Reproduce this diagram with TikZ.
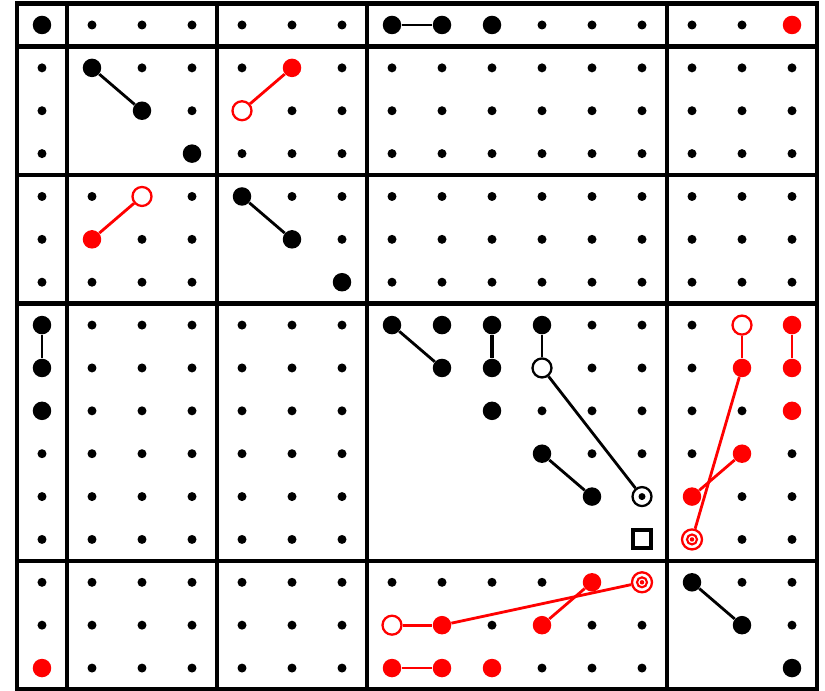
\documentclass[tikz,border=0pt]{standalone}
\usepackage{tikz}
\definecolor{markred}{rgb}{1,0,0}

\tikzset{
  smalldot/.style={circle, fill=black, inner sep=0pt, minimum size=0.18cm},
  bigdot/.style={circle, fill=#1, inner sep=0pt, minimum size=0.37cm},
  bigdot/.default=black,
  opendot/.style={circle, draw=#1, fill=white, line width=1.3pt, inner sep=0pt, minimum size=0.38cm},
  opendot/.default=black,
  ringmark/.style={circle, draw=#1, line width=1.2pt, inner sep=0pt, minimum size=0.2cm},
  link/.style={draw=#1, line width=1.6pt},
  link/.default=black,
  blockline/.style={line width=2.7pt},
  boxmark/.style={rectangle, draw=black, fill=white, line width=2.3pt, inner sep=0pt, minimum size=0.36cm}
}

\begin{document}
\begin{tikzpicture}[x=1cm, y=0.8574cm]
    \useasboundingbox (-0.84,0.583) rectangle (15.66,-15.535);

    % Grid positions, one per column and row
    \foreach \c in {0,...,15} {
        \foreach \r in {0,...,15} {
            \coordinate (pt-\c-\r) at (\c,-\r);
        }
    }

    % Small dots, left out on and below the diagonal of each diagonal block
    \foreach \c in {0,...,15} {
        \foreach \r in {0,...,15} {
            \pgfmathtruncatemacro\bc{(\c>0)+(\c>3)+(\c>6)+(\c>12)}
            \pgfmathtruncatemacro\br{(\r>0)+(\r>3)+(\r>6)+(\r>12)}
            \pgfmathtruncatemacro\hide{(\bc==\br)*(\c<\r+1)}
            \ifnum\hide=0
                \node[smalldot] (dot-\c-\r) at (pt-\c-\r) {};
            \fi
        }
    }

    % Block borders
    \draw[blockline] (-0.5,0.5) rectangle (15.5,-15.5);
    \foreach \b in {0.5, 3.5, 6.5, 12.5} {
        \draw[blockline] (\b,0.5) -- (\b,-15.5);
        \draw[blockline] (-0.5,-\b) -- (15.5,-\b);
    }

    % Black markers
    \foreach \c/\r in {0/0, 7/0, 8/0, 9/0, 1/1, 2/2, 3/3, 4/4, 5/5, 6/6,
                       0/7, 0/8, 0/9, 7/7, 8/7, 9/7, 10/7, 8/8, 9/8, 9/9,
                       10/10, 11/11, 13/13, 14/14, 15/15} {
        \node[bigdot] (mk-\c-\r) at (pt-\c-\r) {};
    }
    \node[opendot] (mk-10-8) at (pt-10-8) {};
    \node[opendot] (mk-12-11) at (pt-12-11) {};
    \node[smalldot, minimum size=0.14cm] (mk-12-11c) at (mk-12-11) {};
    \node[boxmark] (mk-12-12) at (pt-12-12) {};

    % Red markers
    \foreach \c/\r in {15/0, 5/1, 1/5, 0/15, 15/7, 14/8, 15/8, 15/9, 14/10,
                       13/11, 11/13, 8/14, 10/14, 7/15, 8/15, 9/15} {
        \node[bigdot=markred] (mk-\c-\r) at (pt-\c-\r) {};
    }
    \foreach \c/\r in {4/2, 2/4, 14/7, 7/14} {
        \node[opendot=markred] (mk-\c-\r) at (pt-\c-\r) {};
    }
    \foreach \c/\r in {13/12, 12/13} {
        \node[opendot=markred, minimum size=0.4cm] (mk-\c-\r) at (pt-\c-\r) {};
        \node[ringmark=markred] (mk-\c-\r r) at (mk-\c-\r) {};
        \node[bigdot=markred, minimum size=0.09cm] (mk-\c-\r c) at (mk-\c-\r) {};
    }

    % Black links
    \foreach \a/\b in {7-0/8-0, 1-1/2-2, 4-4/5-5, 0-7/0-8, 7-7/8-8,
                       10-7/10-8, 10-8/12-11, 10-10/11-11, 13-13/14-14} {
        \draw[link] (mk-\a) -- (mk-\b);
    }
    \draw[link, line width=2.2pt] (mk-9-7) -- (mk-9-8);

    % Red links
    \foreach \a/\b in {5-1/4-2, 2-4/1-5, 14-7/14-8, 15-7/15-8, 14-8/13-12,
                       14-10/13-11, 7-14/8-14, 8-14/12-13, 11-13/10-14, 7-15/8-15} {
        \draw[link=markred] (mk-\a) -- (mk-\b);
    }

\end{tikzpicture}
\end{document}
